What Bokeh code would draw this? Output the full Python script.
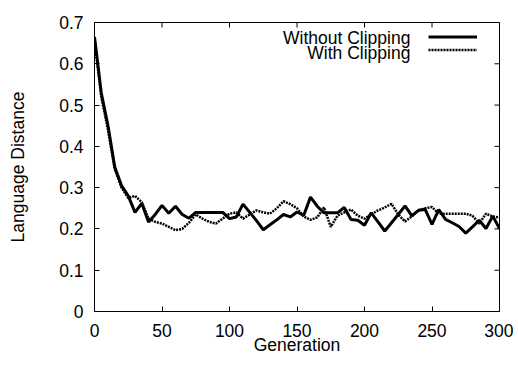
import math
from bokeh.plotting import figure
from bokeh.models import (FixedTicker, Legend, LegendItem, Label, Range1d)
from bokeh.embed import file_html
from bokeh.resources import INLINE

generation = list(range(0, 301, 5))
without_clipping = [
    0.665, 0.530, 0.450, 0.350, 0.305, 0.280, 0.240, 0.262, 0.217, 0.235,
    0.257, 0.238, 0.255, 0.235, 0.226, 0.240, 0.240, 0.240, 0.240, 0.240,
    0.225, 0.229, 0.260, 0.240, 0.220, 0.198, 0.210, 0.222, 0.235, 0.229,
    0.241, 0.233, 0.277, 0.255, 0.239, 0.239, 0.239, 0.252, 0.223, 0.221,
    0.209, 0.239, 0.217, 0.195, 0.215, 0.235, 0.256, 0.232, 0.245, 0.247,
    0.211, 0.247, 0.223, 0.215, 0.206, 0.190, 0.205, 0.221, 0.201, 0.231,
    0.201,
]
with_clipping = [
    0.660, 0.520, 0.440, 0.345, 0.300, 0.275, 0.280, 0.265, 0.225, 0.217,
    0.213, 0.205, 0.197, 0.200, 0.215, 0.235, 0.225, 0.217, 0.213, 0.225,
    0.237, 0.240, 0.225, 0.235, 0.245, 0.240, 0.237, 0.250, 0.267, 0.260,
    0.250, 0.230, 0.222, 0.228, 0.252, 0.205, 0.232, 0.240, 0.247, 0.232,
    0.225, 0.235, 0.245, 0.252, 0.261, 0.235, 0.218, 0.230, 0.245, 0.250,
    0.253, 0.237, 0.237, 0.237, 0.237, 0.237, 0.232, 0.213, 0.237, 0.230,
    0.228,
]
x_ticks = [0, 50, 100, 150, 200, 250, 300]
y_ticks = [0, 0.1, 0.2, 0.3, 0.4, 0.5, 0.6, 0.7]
y_tick_labels = {0: "0", 0.1: "0.1", 0.2: "0.2", 0.3: "0.3", 0.4: "0.4",
                 0.5: "0.5", 0.6: "0.6", 0.7: "0.7"}
series_names = ["Without Clipping", "With Clipping"]

FONT = "Liberation Sans"
FS = "17.5px"
X0, X1, Y0, Y1 = 0, 300, 0, 0.7

p = figure(frame_width=405, frame_height=289, output_backend="svg",
           toolbar_location=None,
           x_range=Range1d(X0, X1), y_range=Range1d(Y0, Y1),
           min_border_left=94, min_border_right=14, min_border_top=22,
           min_border_bottom=50, x_axis_label="Generation",
           y_axis_label="Language Distance")
p.grid.visible = False
p.outline_line_color = "black"
p.outline_line_width = 1
p.background_fill_color = "white"
p.border_fill_color = "white"

for ax in p.xaxis + p.yaxis:
    ax.major_tick_in = 5
    ax.major_tick_out = 0
    ax.minor_tick_line_color = None
    ax.axis_line_color = "black"
    ax.major_tick_line_color = "black"
    ax.major_label_text_font = FONT
    ax.major_label_text_font_size = FS
    ax.major_label_text_color = "black"
    ax.axis_label_text_font = FONT
    ax.axis_label_text_font_size = FS
    ax.axis_label_text_font_style = "normal"
    ax.axis_label_text_color = "black"

p.xaxis.ticker = FixedTicker(ticks=x_ticks)
p.yaxis.ticker = FixedTicker(ticks=y_ticks)
p.yaxis.major_label_overrides = y_tick_labels
p.xaxis.major_label_standoff = 12
p.xaxis.axis_label_standoff = -5
p.yaxis.major_label_standoff = 11
p.yaxis.axis_label_standoff = 28

# mirror ticks on top and right edges (half of each dash is clipped by the frame)
p.scatter(x_ticks, [Y1] * len(x_ticks), marker="dash", size=10, angle=math.pi / 2,
          line_color="black", line_width=1)
p.scatter([X1] * len(y_ticks), y_ticks, marker="dash", size=10,
          line_color="black", line_width=1)

r1 = p.line(generation, without_clipping, line_color="black", line_width=3)
r2 = p.line(generation, with_clipping, line_color="black", line_width=2.5,
            line_dash="2 1")

legend = Legend(items=[LegendItem(label=" ", renderers=[r1]),
                       LegendItem(label=" ", renderers=[r2])],
                location=(334, 255), glyph_width=49, glyph_height=13,
                label_width=0, label_standoff=0, label_height=13,
                label_text_font_size="2px", padding=0, spacing=0, margin=0,
                border_line_color=None, background_fill_alpha=0)
p.add_layout(legend)

for i, name in enumerate(series_names):
    p.add_layout(Label(x=234, y=0.662 - i * 0.035, text=name, text_align="right",
                       text_baseline="middle", text_font=FONT, text_font_size=FS,
                       text_color="black"))

open("out.html", "w").write(file_html(p, INLINE))
